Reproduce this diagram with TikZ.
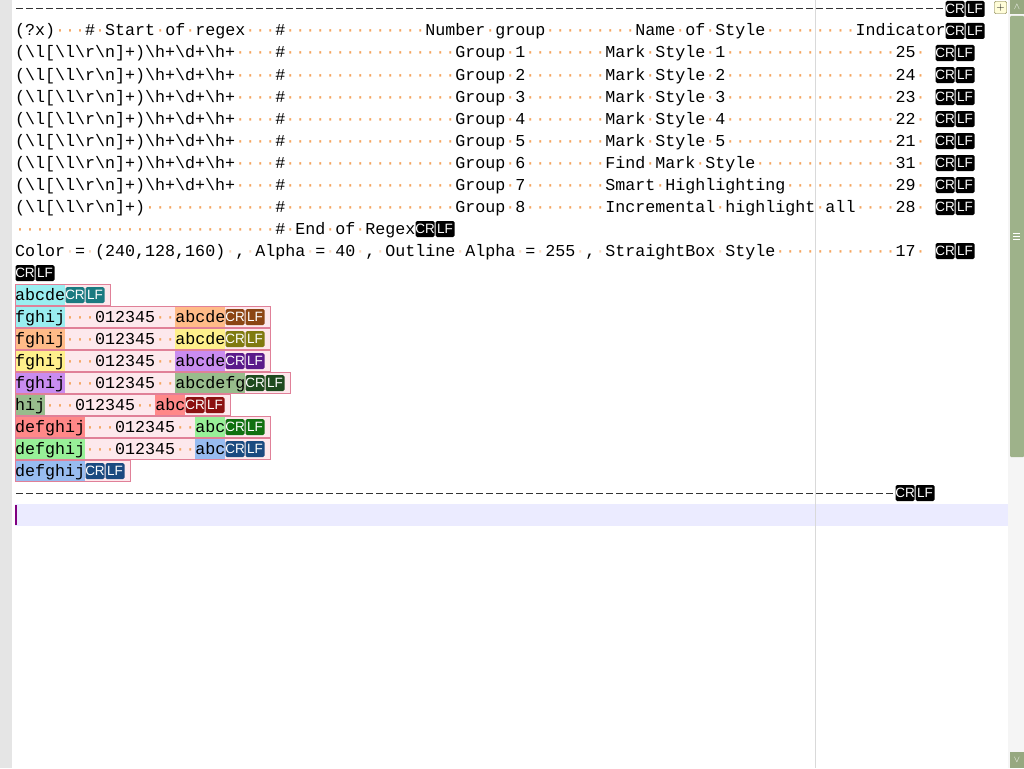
\documentclass[tikz,border=0pt]{standalone}
\usepackage{fontspec}
\newfontfamily\mono{Liberation Mono}
\newfontfamily\crf{Liberation Sans}
\definecolor{dotc}{RGB}{245,165,95}
\definecolor{fdot}{RGB}{250,215,185}
\definecolor{pinkbg}{RGB}{253,232,236}
\definecolor{pinkol}{RGB}{224,128,152}
\definecolor{thumb}{RGB}{158,178,138}
\definecolor{btn}{RGB}{150,168,128}
\definecolor{cyanc}{RGB}{154,238,240}\definecolor{cyand}{RGB}{26,122,128}
\definecolor{orc}{RGB}{255,187,136}\definecolor{ord}{RGB}{139,69,19}
\definecolor{yec}{RGB}{255,240,140}\definecolor{yed}{RGB}{127,122,16}
\definecolor{puc}{RGB}{201,140,240}\definecolor{pud}{RGB}{90,26,138}
\definecolor{gnc}{RGB}{152,188,140}\definecolor{gnd}{RGB}{30,74,30}
\definecolor{rdc}{RGB}{255,136,136}\definecolor{rdd}{RGB}{139,16,16}
\definecolor{lgc}{RGB}{152,240,152}\definecolor{lgd}{RGB}{16,112,16}
\definecolor{blc}{RGB}{152,188,240}\definecolor{bld}{RGB}{26,74,128}
\newcommand\Z{\textcolor{dotc}{·}}
\newcommand\Y{\textcolor{fdot}{·}}
\newcommand\Zs[1]{\foreach\i in{1,...,#1}{\Z}}
\newcommand\bs{\textbackslash}
\newcommand\T[3]{\node[anchor=base west,inner sep=0,font=\mono\fontsize{16.67}{20}\selectfont] at ({15+10*#1},{9+22*#2+5}) {#3};}
\newcommand\CRLF[3][black]{%
 \fill[#1,rounded corners=1.5pt] ({15+10*#2+0.5},{9+22*#3-8}) rectangle ++(19,16);
 \fill[#1,rounded corners=1.5pt] ({15+10*#2+20.5},{9+22*#3-8}) rectangle ++(19,16);
 \node[text=white,inner sep=0,font=\crf\fontsize{13.5}{14}\selectfont] at ({15+10*#2+10},{9+22*#3}) {CR};
 \node[text=white,inner sep=0,font=\crf\fontsize{13.5}{14}\selectfont] at ({15+10*#2+30},{9+22*#3}) {LF};}
\newcommand\HL[4]{\fill[#4] ({15+10*#1},{9+22*#3-10}) rectangle ({15+10*(#2+1)},{9+22*#3+10});}
\newcommand\OL[2]{\fill[pinkbg] (15,{9+22*#2-10.5}) rectangle ({15+10*#1+5},{9+22*#2+10.5});}
\newcommand\OLB[2]{\draw[pinkol,line width=1pt] (15,{9+22*#2-10.5}) rectangle ({15+10*#1+5},{9+22*#2+10.5});}
\begin{document}
\begin{tikzpicture}[x=1pt,y=-1pt]
\useasboundingbox (0,0) rectangle (1024,768);
\fill[white] (0,0) rectangle (1024,768);
\fill[black!10] (0,0) rectangle (12,768);
\fill[blue!8] (15,504) rectangle (1008,526);
\draw[black!15] (815.5,0) -- (815.5,768);
% scrollbar
\fill[black!4] (1008,0) rectangle (1024,768);
\fill[thumb,rounded corners=1pt] (1010,16) rectangle (1024,457);
\fill[btn] (1010,0) rectangle (1024,14);
\node[text=white,inner sep=0,font=\fontsize{9}{9}\selectfont] at (1017,7) {$\wedge$};
\draw[white] (1013,233) -- (1020,233) (1013,236) -- (1020,236) (1013,239) -- (1020,239);
\fill[btn] (1010,752) rectangle (1024,768);
\node[text=white,inner sep=0,font=\fontsize{9}{9}\selectfont] at (1017,760) {$\vee$};
\draw[olive!70!black,fill=yellow!15,rounded corners=1pt] (994.5,1.5) rectangle (1006.5,13.5);
\node[inner sep=0,font=\fontsize{11}{11}\selectfont] at (1000.5,7.5) {+};
% dashed lines
\draw[black!80,dash pattern=on 7pt off 3pt,line width=1pt] (16,9) -- (945,9);
\draw[black!80,dash pattern=on 7pt off 3pt,line width=1pt] (16,493) -- (895,493);
\CRLF{93}{0}
\T{0}{1}{(?x)\Zs{3}\#\Z Start\Z of\Z regex\Zs{3}\#\Zs{14}Number\Z group\Zs{9}Name\Z of\Z Style\Zs{9}Indicator}
\CRLF{93}{1}
\foreach \r/\n/\s/\d/\v in {2/1/Mark\Z Style\Z 1/17/25,3/2/Mark\Z Style\Z 2/17/24,4/3/Mark\Z Style\Z 3/17/23,5/4/Mark\Z Style\Z 4/17/22,6/5/Mark\Z Style\Z 5/17/21,7/6/Find\Z Mark\Z Style/14/31,8/7/Smart\Z Highlighting/11/29}{
 \T{0}{\r}{(\bs l[\bs l\bs r\bs n]+)\bs h+\bs d+\bs h+\Zs{4}\#\Zs{17}Group\Z \n\Zs{8}\s\Zs{\d}\v\Z}
 \CRLF{92}{\r}}
\T{0}{9}{(\bs l[\bs l\bs r\bs n]+)\Zs{13}\#\Zs{17}Group\Z 8\Zs{8}Incremental\Z highlight\Z all\Zs{4}28\Z}
\CRLF{92}{9}
\T{0}{10}{\Zs{26}\#\Z End\Z of\Z Regex}
\CRLF{40}{10}
\T{0}{11}{Color\Y=\Y(240,128,160)\Y,\Y Alpha\Y=\Y 40\Y,\Y Outline\Y Alpha\Y=\Y 255\Y,\Y StraightBox\Y Style\Zs{12}17\Z}
\CRLF{92}{11}
\CRLF{0}{12}
% colored block
\OL{9}{13}\HL{0}{4}{13}{cyanc}\CRLF[cyand]{5}{13}\OLB{9}{13}
\T{0}{13}{abcde}
\foreach \r/\a/\b/\bd in {14/cyanc/orc/ord,15/orc/yec/yed,16/yec/puc/pud}{
 \OL{25}{\r}\HL{0}{4}{\r}{\a}\HL{16}{20}{\r}{\b}\CRLF[\bd]{21}{\r}\OLB{25}{\r}
 \T{0}{\r}{fghij\Zs{3}012345\Zs{2}abcde}}
\OL{27}{17}\HL{0}{4}{17}{puc}\HL{16}{22}{17}{gnc}\CRLF[gnd]{23}{17}\OLB{27}{17}
\T{0}{17}{fghij\Zs{3}012345\Zs{2}abcdefg}
\OL{21}{18}\HL{0}{2}{18}{gnc}\HL{14}{16}{18}{rdc}\CRLF[rdd]{17}{18}\OLB{21}{18}
\T{0}{18}{hij\Zs{3}012345\Zs{2}abc}
\foreach \r/\a/\b/\bd in {19/rdc/lgc/lgd,20/lgc/blc/bld}{
 \OL{25}{\r}\HL{0}{6}{\r}{\a}\HL{18}{20}{\r}{\b}\CRLF[\bd]{21}{\r}\OLB{25}{\r}
 \T{0}{\r}{defghij\Zs{3}012345\Zs{2}abc}}
\OL{11}{21}\HL{0}{6}{21}{blc}\CRLF[bld]{7}{21}\OLB{11}{21}
\T{0}{21}{defghij}
\CRLF{88}{22}
\draw[violet,line width=2pt] (16,505) -- (16,525);
\end{tikzpicture}
\end{document}
